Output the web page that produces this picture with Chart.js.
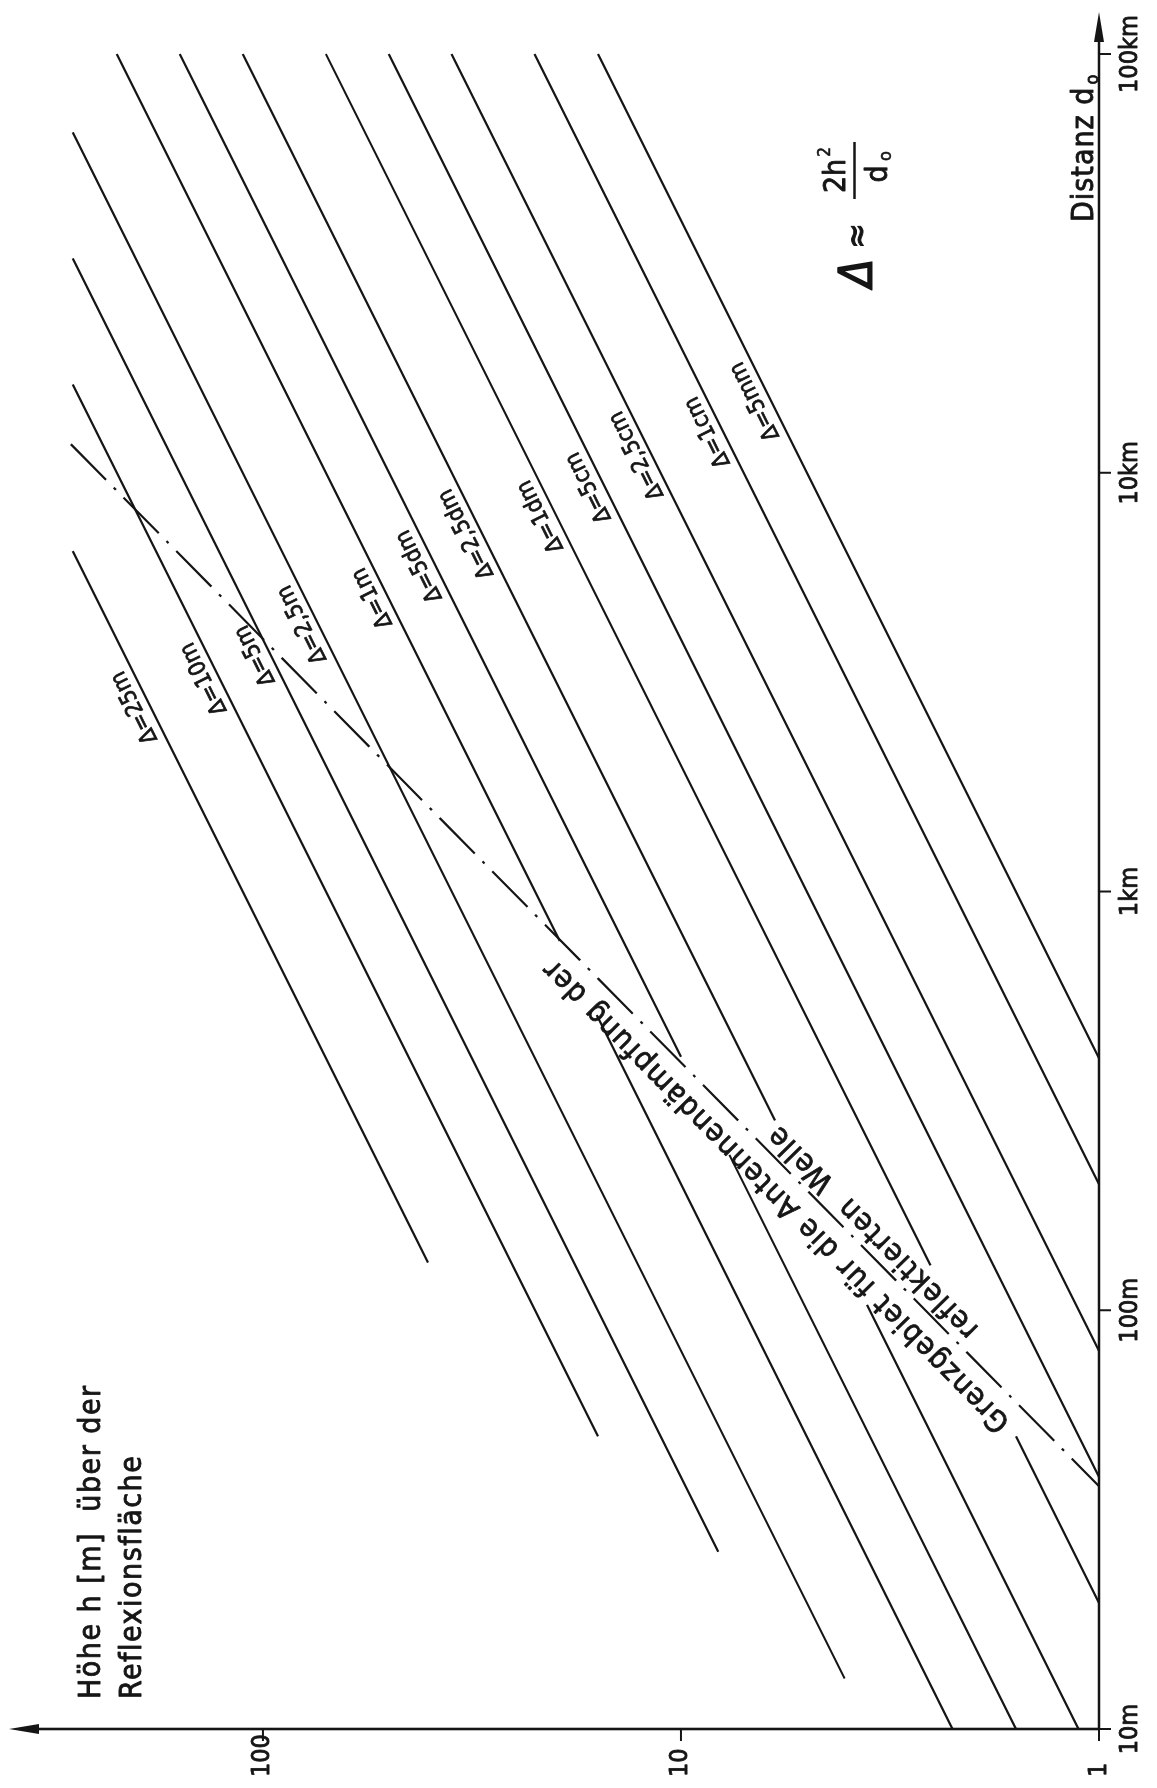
<!DOCTYPE html>
<html>
<head>
<meta charset="utf-8">
<script src="https://cdn.jsdelivr.net/npm/chart.js@4.4.1/dist/chart.umd.min.js"></script>
<style>
html, body { margin: 0; padding: 0; background: #fff; overflow: hidden; }
/* the figure is printed turned a quarter left: draw it upright, then rotate */
#wrap { position: absolute; left: 0; top: 0; width: 1788px; height: 1157px;
        transform-origin: 0 0; transform: translateY(1788px) rotate(-90deg); }
</style>
</head>
<body>
<div id="wrap"><canvas id="chart" width="1788" height="1157"></canvas></div>
<script>
const distTicks = [10, 100, 1000, 10000, 100000];
const distTickLabels = ['10m', '100m', '1km', '10km', '100km'];
const heightTicks = [1, 10, 100];
const heightTickLabels = ['1', '10', '100'];

const deltaLabels = ['Δ=25m', 'Δ=10m', 'Δ=5m', 'Δ=2,5m', 'Δ=1m', 'Δ=5dm', 'Δ=2,5dm', 'Δ=1dm', 'Δ=5cm', 'Δ=2,5cm', 'Δ=1cm', 'Δ=5mm'];
// pieces of each Δ line: [d from, h from, d to, h to] (m), broken where the text crosses
const deltaSegments = [
    [[6500, 285, 130, 40.3]],
    [[16250, 285, 50, 15.8]],
    [[32500, 285, 26.5, 8.14]],
    [[65000, 285, 13.2, 4.06]],
    [[100000, 223.6, 762, 19.5], [507, 15.9, 10, 2.24]],
    [[100000, 158.1, 403, 10.0], [235, 7.66, 10, 1.58]],
    [[100000, 111.8, 284, 5.96], [103, 3.59, 10, 1.12]],
    [[100000, 70.7, 128, 2.53], [50, 1.58, 20, 1]],
    [[100000, 50, 40, 1]],
    [[100000, 35.4, 80, 1]],
    [[100000, 22.4, 200, 1]],
    [[100000, 15.8, 400, 1]]
];
// where each Δ label sits on its line [d, h]
const labelPoints = [[2850, 189], [3340, 129], [3790, 97.3], [4500, 75], [5200, 51], [6200, 39.4],
                     [7400, 30.4], [8150, 20.2], [9550, 15.5], [11400, 11.9], [12950, 8.05], [15350, 6.2]];

// dash-dot boundary line [d, h]
const boundaryLine = [[11700, 288], [38, 1]];
const boundaryText = ['Grenzgebiet für die Antennendämpfung der', 'reflektierten  Welle'];
const boundaryTextStart = [58, 82];   // d where each text row begins

const FONT = "'DejaVu Sans Condensed', 'DejaVu Sans', sans-serif";
const INK = '#151515';

const datasets = [];
deltaSegments.forEach(segs => {
    segs.forEach(s => {
        datasets.push({
            data: [{ x: s[0], y: s[1] }, { x: s[2], y: s[3] }],
            showLine: true, borderColor: INK, borderWidth: 2.2, pointRadius: 0
        });
    });
});
datasets.push({
    data: boundaryLine.map(p => ({ x: p[0], y: p[1] })),
    showLine: true, borderColor: INK, borderWidth: 2.2, pointRadius: 0,
    borderDash: [50, 11, 3, 11]
});

function boundaryH(d) {
    const [p1, p2] = boundaryLine;
    const t = (Math.log10(d) - Math.log10(p2[0])) / (Math.log10(p1[0]) - Math.log10(p2[0]));
    return Math.pow(10, Math.log10(p2[1]) + t * (Math.log10(p1[1]) - Math.log10(p2[1])));
}

// lettering on the original is a bit heavier than the Book face
function ink(ctx, text, px, py, w) {
    ctx.lineWidth = w || 0.8;
    ctx.strokeText(text, px, py);
    ctx.fillText(text, px, py);
}

const decor = {
    id: 'decor',
    afterDraw(chart) {
        const { ctx, chartArea: a } = chart;
        const x = chart.scales.x, y = chart.scales.y;
        ctx.save();
        ctx.strokeStyle = INK;
        ctx.fillStyle = INK;
        ctx.lineJoin = 'round';

        // axes with arrows
        ctx.lineWidth = 2.6;
        ctx.beginPath();
        ctx.moveTo(a.left, a.bottom); ctx.lineTo(a.right - 20, a.bottom);
        ctx.moveTo(a.left, a.bottom); ctx.lineTo(a.left, a.top + 20);
        ctx.stroke();
        ctx.beginPath();
        ctx.moveTo(a.right, a.bottom); ctx.lineTo(a.right - 30, a.bottom - 5); ctx.lineTo(a.right - 30, a.bottom + 5);
        ctx.closePath(); ctx.fill();
        ctx.beginPath();
        ctx.moveTo(a.left, a.top); ctx.lineTo(a.left - 5, a.top + 30); ctx.lineTo(a.left + 5, a.top + 30);
        ctx.closePath(); ctx.fill();

        // ticks and tick labels
        ctx.font = '25px ' + FONT;
        distTicks.forEach((d, i) => {
            const px = x.getPixelForValue(d);
            ctx.lineWidth = 2;
            ctx.beginPath(); ctx.moveTo(px, a.bottom); ctx.lineTo(px, a.bottom + 12); ctx.stroke();
            ctx.textAlign = 'center'; ctx.textBaseline = 'top';
            ink(ctx, distTickLabels[i], px, a.bottom + 19);
        });
        heightTicks.forEach((h, i) => {
            const py = y.getPixelForValue(h);
            ctx.lineWidth = 2;
            ctx.beginPath(); ctx.moveTo(a.left, py); ctx.lineTo(a.left - 12, py); ctx.stroke();
            ctx.textAlign = 'left'; ctx.textBaseline = 'middle';
            ink(ctx, heightTickLabels[i], a.left - 48, py);
        });

        // Δ labels along their lines
        ctx.font = '23px ' + FONT;
        labelPoints.forEach(([d, h], i) => {
            const s = deltaSegments[i][0];
            const last = deltaSegments[i][deltaSegments[i].length - 1];
            const ang = Math.atan2(y.getPixelForValue(s[1]) - y.getPixelForValue(last[3]),
                                   x.getPixelForValue(s[0]) - x.getPixelForValue(last[2]));
            ctx.save();
            ctx.translate(x.getPixelForValue(d), y.getPixelForValue(h));
            ctx.rotate(ang);
            ctx.textAlign = 'center'; ctx.textBaseline = 'middle';
            ink(ctx, deltaLabels[i], 0, -14, 0.7);
            ctx.restore();
        });

        // text along the dash-dot line
        const b1 = boundaryLine[0], b2 = boundaryLine[1];
        const bang = Math.atan2(y.getPixelForValue(b1[1]) - y.getPixelForValue(b2[1]),
                                x.getPixelForValue(b1[0]) - x.getPixelForValue(b2[0]));
        ctx.font = '30px ' + FONT;
        ctx.letterSpacing = '1.5px';
        boundaryText.forEach((t, i) => {
            const d = boundaryTextStart[i];
            ctx.save();
            ctx.translate(x.getPixelForValue(d), y.getPixelForValue(boundaryH(d)));
            ctx.rotate(bang);
            ctx.textAlign = 'left'; ctx.textBaseline = 'alphabetic';
            ink(ctx, t, 0, i === 0 ? -17 : 26);
            ctx.restore();
        });

        // axis titles
        ctx.textAlign = 'left'; ctx.textBaseline = 'alphabetic';
        ctx.font = '30px ' + FONT;
        ctx.letterSpacing = '1.5px';
        ink(ctx, 'Höhe h [m]  über der', a.left + 30, a.top + 91);
        ink(ctx, 'Reflexionsfläche', a.left + 30, a.top + 132);
        ctx.letterSpacing = '1px';
        ink(ctx, 'Distanz d', a.right - 210, a.bottom - 6);
        const dw = ctx.measureText('Distanz d').width;
        ctx.font = '18px ' + FONT;
        ink(ctx, 'o', a.right - 210 + dw + 2, a.bottom - 1);
        ctx.letterSpacing = '0px';

        // formula  Δ ≈ 2h² / d₀
        const fx = x.getPixelForValue(30000), fy = y.getPixelForValue(3.5);
        ctx.textAlign = 'center';
        ctx.font = 'italic 46px ' + FONT;
        ink(ctx, 'Δ', fx, fy, 1.6);
        ctx.font = '34px ' + FONT;
        ink(ctx, '≈', fx + 37, fy - 4, 1);
        ctx.lineWidth = 2.6;
        ctx.beginPath(); ctx.moveTo(fx + 74, fy - 17); ctx.lineTo(fx + 131, fy - 17); ctx.stroke();
        ctx.font = '30px ' + FONT;
        ink(ctx, '2h', fx + 97, fy - 27);
        ctx.font = '17px ' + FONT;
        ink(ctx, '2', fx + 121, fy - 42, 0.6);
        ctx.font = '30px ' + FONT;
        ink(ctx, 'd', fx + 99, fy + 15);
        ctx.font = '18px ' + FONT;
        ink(ctx, 'o', fx + 117, fy + 19, 0.6);
        ctx.restore();
    }
};

new Chart(document.getElementById('chart'), {
    type: 'scatter',
    data: { datasets },
    options: {
        responsive: false,
        animation: false,
        layout: { padding: { left: 59, right: 12, top: 9, bottom: 58 } },
        plugins: { legend: { display: false }, tooltip: { enabled: false } },
        scales: {
            x: { type: 'logarithmic', min: 10, max: 126000, display: false },
            y: { type: 'logarithmic', min: 1, max: 405, display: false }
        }
    },
    plugins: [decor]
});
</script>
</body>
</html>
